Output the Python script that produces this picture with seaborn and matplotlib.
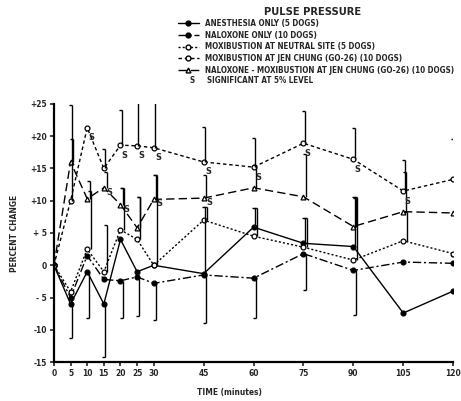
import matplotlib
matplotlib.use("Agg")
import matplotlib.pyplot as plt
import seaborn as sns
import pandas as pd
from matplotlib.lines import Line2D

# time points (minutes) and percent change in pulse pressure
times = [0, 5, 10, 15, 20, 25, 30, 45, 60, 75, 90, 105, 120]

anesthesia = [0, -6, -1, -6, 4, -1, 0, -1.3, 5.9, 3.4, 2.9, -7.4, -4]
anesthesia_up = [0, 0, 0, 0, 0, 0, 0, 10.3, 2.9, 3.9, 7.7, 0, 5.5]
anesthesia_down = [0, 5.3, 7.2, 8.2, 0, 0, 0, 0, 0, 0, 0, 0, 0]

naloxone = [0, -5, 1.5, -2.2, -2.4, -1.8, -2.8, -1.5, -2, 1.8, -0.8, 0.5, 0.3]
naloxone_up = [0, 0, 0, 0, 0, 0, 0, 0, 0, 0, 0, 0, 0]
naloxone_down = [0, 0, 0, 0, 5.8, 6, 5.7, 7.5, 6.2, 5.6, 6.9, 0, 0]

neutral = [0, -4.1, 2.5, -1, 5.5, 4, 0, 7, 4.5, 2.8, 0.8, 3.8, 1.8]
neutral_up = [0, 0, 9, 7.2, 6.5, 6.5, 14, 2, 4.3, 4.5, 9.8, 4.5, 5]
neutral_down = [0, 0, 0, 0, 0, 0, 0, 0, 0, 0, 0, 0, 0]

jen_chung = [0, 10, 21.3, 15, 18.6, 18.5, 18.2, 16, 15.2, 18.9, 16.4, 11.5, 13.3]
jen_chung_up = [0, 14.8, 0, 3, 5.4, 7.1, 7.2, 5.4, 4.5, 5, 4.9, 4.8, 6.2]
jen_chung_down = [0, 0, 0, 0, 0, 0, 0, 0, 0, 0, 0, 0, 0]

nal_moxi = [0, 16, 10.3, 12, 9.4, 5.8, 10.2, 10.4, 12, 10.6, 6, 8.3, 8.1]
nal_moxi_up = [0, 3.5, 2.7, 2.5, 2.6, 4.8, 3.8, 3.6, 3.5, 6.7, 4.4, 6.2, 3]
nal_moxi_down = [0, 0, 0, 0, 0, 0, 0, 0, 0, 0, 0, 0, 0]

sig_jen_chung = [10, 20, 25, 30, 45, 60, 75, 90, 105]
sig_nal_moxi = [15, 20, 30, 45]

labels = [
    "ANESTHESIA ONLY (5 DOGS)",
    "NALOXONE ONLY (10 DOGS)",
    "MOXIBUSTION AT NEUTRAL SITE (5 DOGS)",
    "MOXIBUSTION AT JEN CHUNG (GO-26) (10 DOGS)",
    "NALOXONE - MOXIBUSTION AT JEN CHUNG (GO-26) (10 DOGS)",
]
x_ticks = [0, 5, 10, 15, 20, 25, 30, 45, 60, 75, 90, 105, 120]
y_ticks = [-15, -10, -5, 0, 5, 10, 15, 20, 25]
y_tick_labels = ["-15", "-10", "- 5", "0", "+ 5", "+10", "+15", "+20", "+25"]

values = [anesthesia, naloxone, neutral, jen_chung, nal_moxi]
ups = [anesthesia_up, naloxone_up, neutral_up, jen_chung_up, nal_moxi_up]
downs = [anesthesia_down, naloxone_down, neutral_down, jen_chung_down, nal_moxi_down]

df = pd.concat([pd.DataFrame({"time": times, "change": v, "group": lab})
                for v, lab in zip(values, labels)], ignore_index=True)

sns.set_theme(style="ticks")
FONT = ["DejaVu Sans"]
plt.rcParams["font.family"] = FONT
plt.rcParams["font.stretch"] = "condensed"
plt.rcParams["font.weight"] = "bold"

dashes = {labels[0]: "", labels[1]: (6, 2, 1.5, 2), labels[2]: (1.5, 1.5),
          labels[3]: (2.5, 2), labels[4]: (6, 3)}
markers = {labels[0]: "o", labels[1]: "o", labels[2]: "o", labels[3]: "o", labels[4]: "^"}
filled = [True, True, False, False, False]
bar_shift = [0.4, 0.7, 1.0, 0.4, 0.8]

fig = plt.figure(figsize=(4.61, 4.01), dpi=100)
ax = fig.add_axes([0.117, 0.097, 0.866, 0.644])

sns.lineplot(data=df, x="time", y="change", hue="group", style="group",
             hue_order=labels, style_order=labels,
             palette={lab: "black" for lab in labels}, dashes=dashes, markers=markers,
             markersize=3.5, linewidth=1.0, markeredgewidth=0.9, legend=False, ax=ax)

for line, fill in zip(ax.lines, filled):
    line.set_markerfacecolor("black" if fill else "white")
    line.set_markeredgecolor("black")

# one-sided error bars with a small cap at the far end
for v, up, dn, sh in zip(values, ups, downs, bar_shift):
    for t, y, u, d in zip(times, v, up, dn):
        if u > 0:
            ax.vlines(t + sh, y, y + u, color="black", lw=1.0)
            ax.hlines(y + u, t + sh - 0.9, t + sh, color="black", lw=1.0)
        if d > 0:
            ax.vlines(t + sh, y - d, y, color="black", lw=1.0)
            ax.hlines(y - d, t + sh - 0.9, t + sh, color="black", lw=1.0)

for t in sig_jen_chung:
    y = jen_chung[times.index(t)]
    ax.annotate("S", (t, y), xytext=(1, -9), textcoords="offset points",
                fontsize=6.5, fontweight="bold")
for t in sig_nal_moxi:
    y = nal_moxi[times.index(t)]
    ax.annotate("S", (t, y), xytext=(2, -5), textcoords="offset points",
                fontsize=6.5, fontweight="bold")

ax.set_xlim(0, 120)
ax.set_ylim(-15, 25)
ax.set_xticks(x_ticks)
ax.set_xticklabels([str(t) for t in x_ticks])
ax.set_yticks(y_ticks)
ax.set_yticklabels(y_tick_labels)
ax.tick_params(labelsize=6, length=3, width=1.2, pad=2)
for lab in ax.get_xticklabels() + ax.get_yticklabels():
    lab.set_fontweight("bold")
    lab.set_fontstretch("condensed")
sns.despine(ax=ax)
for s in ["left", "bottom"]:
    ax.spines[s].set_linewidth(1.6)
    ax.spines[s].set_color("black")

ax.set_xlabel("TIME (minutes)", fontsize=6, fontweight="bold")
ax.xaxis.set_label_coords(0.44, -0.1)
ax.set_ylabel("PERCENT CHANGE", fontsize=6, fontweight="bold")
ax.yaxis.set_label_coords(-0.088, 0.5)

handles = [Line2D([], [], color="black", lw=1.0, dashes=dashes[lab] if dashes[lab] else (None, None),
                  marker=markers[lab], markersize=3.5,
                  markerfacecolor="black" if f else "white")
           for lab, f in zip(labels, filled)]
handles[0].set_linestyle("-")
fig.legend(handles, labels, loc="upper left", bbox_to_anchor=(0.386, 0.952),
           frameon=False, borderpad=0, borderaxespad=0, handlelength=2.6,
           handletextpad=0.8, labelspacing=0.32, markerfirst=True,
           prop={"family": FONT, "weight": "bold", "size": 5.8, "stretch": "condensed"})
fig.text(0.41, 0.8, "S", fontsize=5.8, fontweight="bold", va="center")
fig.text(0.449, 0.8, "SIGNIFICANT AT 5% LEVEL", fontsize=5.8, fontweight="bold", va="center")
fig.text(0.679, 0.97, "PULSE PRESSURE", fontsize=8, fontweight="bold", ha="center", va="center")

fig.savefig("out.png", dpi=100)
